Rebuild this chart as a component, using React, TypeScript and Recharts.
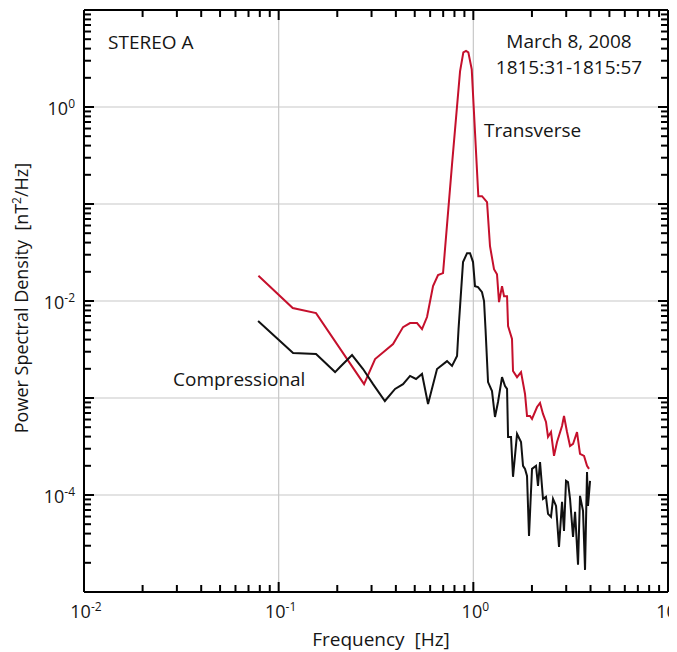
import React from 'react';
import { LineChart, Line, XAxis, YAxis, ReferenceLine } from 'recharts';

// Transverse (red) spectrum, frequency in Hz, PSD in nT^2/Hz
const transFreq = [
  0.0787, 0.1181, 0.1556, 0.2746, 0.3128, 0.387, 0.4354, 0.473, 0.5138, 0.545,
  0.5782, 0.6209, 0.6587, 0.6988, 0.7772, 0.8546, 0.8885, 0.9172, 0.9426, 0.9813,
  1.061, 1.108, 1.176, 1.218, 1.277, 1.323, 1.355, 1.404, 1.438, 1.49,
  1.508, 1.58, 1.599, 1.677, 1.758, 1.843, 1.887, 1.955, 2.002, 2.125,
  2.201, 2.28, 2.362, 2.419, 2.506, 2.597, 2.691, 2.855, 2.923, 3.029,
  3.139, 3.252, 3.409, 3.532, 3.704, 3.837, 3.93,
];
const transPsd = [
  0.0182, 0.00845, 0.0075, 0.00139, 0.00252, 0.0036, 0.00538, 0.00592, 0.00592, 0.00514,
  0.00683, 0.01423, 0.01849, 0.01937, 0.2559, 2.33, 3.66, 3.79, 3.66, 2.44,
  0.1203, 0.1203, 0.1044, 0.0367, 0.0213, 0.0189, 0.00973, 0.01423, 0.01122, 0.01122,
  0.00552, 0.00406, 0.0019, 0.00164, 0.00185, 0.0011, 0.000653, 0.000653, 0.000608, 0.000807,
  0.000889, 0.000685, 0.000566, 0.000397, 0.000446, 0.000253, 0.000352, 0.000515, 0.000653, 0.000446,
  0.00032, 0.000336, 0.000446, 0.000265, 0.000253, 0.0002, 0.000186,
];

// Compressional (black) spectrum
const compFreq = [
  0.0784, 0.1186, 0.1556, 0.1949, 0.2067, 0.2382, 0.2714, 0.3054, 0.3512, 0.3962,
  0.4354, 0.473, 0.5077, 0.545, 0.5852, 0.6509, 0.7326, 0.7772, 0.8248, 0.8395,
  0.8853, 0.9282, 0.9618, 0.9965, 1.02, 1.057, 1.108, 1.135, 1.155, 1.19,
  1.247, 1.292, 1.339, 1.404, 1.455, 1.49, 1.508, 1.562, 1.599, 1.677,
  1.758, 1.8, 1.843, 1.887, 1.932, 2.002, 2.099, 2.149, 2.201, 2.28,
  2.362, 2.419, 2.506, 2.567, 2.66, 2.755, 2.855, 2.923, 2.993, 3.064,
  3.139, 3.252, 3.331, 3.45, 3.532, 3.66, 3.748, 3.837, 3.882, 3.977,
];
const compPsd = [
  0.00621, 0.00291, 0.00284, 0.00185, 0.00209, 0.00277, 0.00199, 0.00139, 0.000931, 0.00124,
  0.00139, 0.00169, 0.00157, 0.00177, 0.000867, 0.00199, 0.0024, 0.00214, 0.00271, 0.00514,
  0.0252, 0.0311, 0.0311, 0.0252, 0.01423, 0.0139, 0.01233, 0.00998, 0.00514, 0.00146,
  0.00118, 0.000637, 0.00091, 0.00164, 0.00133, 0.00124, 0.000397, 0.000397, 0.000154, 0.000426,
  0.000352, 0.0002, 0.000186, 0.000157, 3.79e-5, 0.000186, 0.0002, 0.000124, 0.000219, 9.12e-5,
  9.57e-5, 6.39e-5, 5.95e-5, 9.12e-5, 7.72e-5, 2.92e-5, 8.49e-5, 4.27e-5, 0.00014, 0.000136,
  9.12e-5, 3.7e-5, 6.7e-5, 1.91e-5, 9.8e-5, 6.86e-5, 1.69e-5, 0.000173, 7.72e-5, 0.00014,
];

// axis decades (exponents) and minor multipliers
const xDecades = [-2, -1, 0, 1];
const yDecades = [-5, -4, -3, -2, -1, 0, 1];
const minorSteps = [2, 3, 4, 5, 6, 7, 8, 9];
const xLabelExps = [-2, -1, 0, 1];
const yLabelExps = [-4, -2, 0];
const xGridExps = [-1, 0];
const yGridExps = [-4, -3, -2, -1, 0];

const FONT = '"Open Sans", "Noto Sans", sans-serif';
const TEXT = '#151515';

const W = 669;
const H = 644;
const X_MIN = 0.01;
const X_MAX = 10;
const Y_MIN = 1e-5;
const Y_MAX = 10;

const transData = transFreq.map((f, i) => ({ f, psd: transPsd[i] }));
const compData = compFreq.map((f, i) => ({ f, psd: compPsd[i] }));

const buildTicks = (decs: number[]) => {
  const out: number[] = [];
  decs.forEach((d, i) => {
    out.push(Math.pow(10, d));
    if (i < decs.length - 1) minorSteps.forEach((m) => out.push(m * Math.pow(10, d)));
  });
  return out;
};
const xTicks = buildTicks(xDecades);
const yTicks = buildTicks(yDecades);

const decadeOf = (v: number) => {
  const l = Math.log10(v);
  const e = Math.round(l);
  return { e, major: Math.abs(l - e) < 1e-6 };
};

const Pow10 = ({ x, y, e, anchor }: { x: number; y: number; e: number; anchor: string }) => (
  <text x={x} y={y} textAnchor={anchor} fontSize={18} fill={TEXT} fontFamily={FONT}>
    10
    <tspan dy={-7} fontSize={12}>{e}</tspan>
  </text>
);

// tick mark drawn inward from the axis line, label only on labelled decades
const AxisTick = (props: any) => {
  const x = Number(props.x);
  const y = Number(props.y);
  const { payload, side } = props;
  const { e, major } = decadeOf(payload.value);
  const len = major ? 10 : 7;
  let d = '';
  if (side === 'bottom') d = `M${x},${y}L${x},${y - len}`;
  if (side === 'top') d = `M${x},${y}L${x},${y + len}`;
  if (side === 'left') d = `M${x},${y}L${x + len},${y}`;
  if (side === 'right') d = `M${x},${y}L${x - len},${y}`;
  return (
    <g>
      <path d={d} stroke="#000" strokeWidth={2} fill="none" />
      {side === 'bottom' && major && xLabelExps.includes(e) && (
        <Pow10 x={x + 2} y={y + 26} e={e} anchor="middle" />
      )}
      {side === 'left' && major && yLabelExps.includes(e) && (
        <Pow10 x={x - 9} y={y + 8} e={e} anchor="end" />
      )}
    </g>
  );
};

const frame = { stroke: '#000', strokeWidth: 2 };

export default function App() {
  return (
    <LineChart width={W} height={H} margin={{ top: 0, right: 0, bottom: 0, left: 0 }} style={{ fontFamily: FONT }}>
      <XAxis
        xAxisId="bottom"
        type="number"
        dataKey="f"
        scale="log"
        domain={[X_MIN, X_MAX]}
        allowDataOverflow
        ticks={xTicks}
        interval={0}
        tickSize={0}
        tickMargin={0}
        tickLine={false}
        height={60}
        axisLine={frame}
        tick={(p: any) => <AxisTick {...p} side="bottom" />}
      />
      <XAxis
        xAxisId="top"
        orientation="top"
        type="number"
        dataKey="f"
        scale="log"
        domain={[X_MIN, X_MAX]}
        allowDataOverflow
        ticks={xTicks}
        interval={0}
        tickSize={0}
        tickMargin={0}
        tickLine={false}
        height={2}
        axisLine={frame}
        tick={(p: any) => <AxisTick {...p} side="top" />}
      />
      <YAxis
        yAxisId="left"
        type="number"
        dataKey="psd"
        scale="log"
        domain={[Y_MIN, Y_MAX]}
        allowDataOverflow
        ticks={yTicks}
        interval={0}
        tickSize={0}
        tickMargin={0}
        tickLine={false}
        width={76}
        axisLine={frame}
        tick={(p: any) => <AxisTick {...p} side="left" />}
      />
      <YAxis
        yAxisId="right"
        orientation="right"
        type="number"
        dataKey="psd"
        scale="log"
        domain={[Y_MIN, Y_MAX]}
        allowDataOverflow
        ticks={yTicks}
        interval={0}
        tickSize={0}
        tickMargin={0}
        tickLine={false}
        width={9}
        axisLine={frame}
        tick={(p: any) => <AxisTick {...p} side="right" />}
      />

      {xGridExps.map((e) => (
        <ReferenceLine key={`gx${e}`} xAxisId="bottom" yAxisId="left" x={Math.pow(10, e)} stroke="#c8c8c8" strokeWidth={1.2} />
      ))}
      {yGridExps.map((e) => (
        <ReferenceLine key={`gy${e}`} xAxisId="bottom" yAxisId="left" y={Math.pow(10, e)} stroke="#c8c8c8" strokeWidth={1.2} />
      ))}

      <Line
        xAxisId="bottom"
        yAxisId="left"
        data={transData}
        dataKey="psd"
        type="linear"
        stroke="#c5102c"
        strokeWidth={2}
        dot={false}
        activeDot={false}
        isAnimationActive={false}
      />
      <Line
        xAxisId="bottom"
        yAxisId="left"
        data={compData}
        dataKey="psd"
        type="linear"
        stroke="#111111"
        strokeWidth={2}
        dot={false}
        activeDot={false}
        isAnimationActive={false}
      />

      <text x={100} y={41} fontSize={19} fill={TEXT} fontFamily={FONT}>STEREO A</text>
      <text x={561} y={40} fontSize={19} fill={TEXT} fontFamily={FONT} textAnchor="middle">March 8, 2008</text>
      <text x={561} y={66} fontSize={19} fill={TEXT} fontFamily={FONT} textAnchor="middle">1815:31-1815:57</text>
      <text x={476} y={129} fontSize={19} fill={TEXT} fontFamily={FONT}>Transverse</text>
      <text x={165} y={378} fontSize={19} fill={TEXT} fontFamily={FONT}>Compressional</text>
      <text x={373} y={638} fontSize={19} fill={TEXT} fontFamily={FONT} textAnchor="middle">
        Frequency{'\u00a0\u00a0'}[Hz]
      </text>
      <text transform="translate(20, 290) rotate(-90)" fontSize={18} fill={TEXT} fontFamily={FONT} textAnchor="middle">
        Power Spectral Density{'\u00a0\u00a0'}[nT
        <tspan dy={-7} fontSize={12}>2</tspan>
        <tspan dy={7}>/Hz]</tspan>
      </text>
    </LineChart>
  );
}
